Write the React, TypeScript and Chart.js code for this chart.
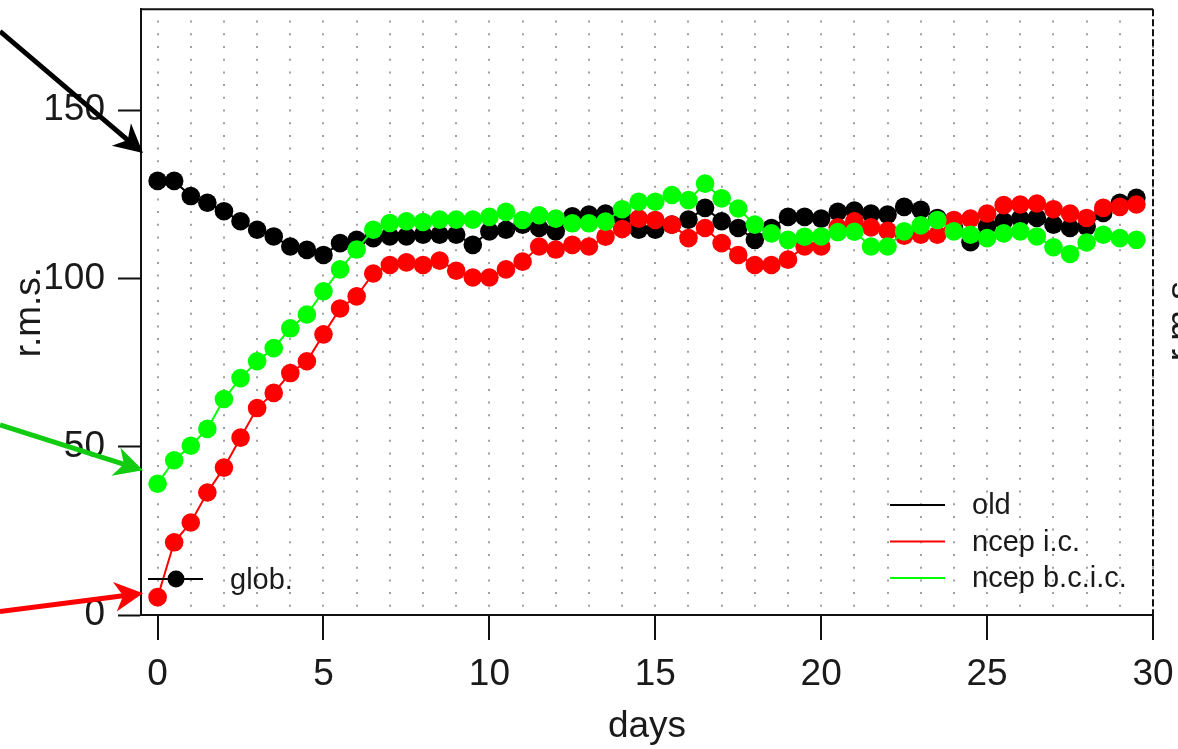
import React, { useEffect, useRef } from "react";
import { Chart, registerables } from "chart.js";

Chart.register(...registerables);

// ---- data ----
const days = [
  0, 0.5, 1, 1.5, 2, 2.5, 3, 3.5, 4, 4.5, 5, 5.5, 6, 6.5, 7, 7.5, 8, 8.5, 9, 9.5,
  10, 10.5, 11, 11.5, 12, 12.5, 13, 13.5, 14, 14.5, 15, 15.5, 16, 16.5, 17, 17.5, 18, 18.5, 19, 19.5,
  20, 20.5, 21, 21.5, 22, 22.5, 23, 23.5, 24, 24.5, 25, 25.5, 26, 26.5, 27, 27.5, 28, 28.5, 29, 29.5,
];

const oldVals = [
  129, 129, 124.5, 122.5, 120, 117, 114.5, 112.5, 109.5, 108.5, 107, 110.5, 111.5, 112, 112.5, 112.5, 113, 113, 113, 110,
  114, 114.5, 116, 115, 114, 118.5, 119, 119.3, 118, 114.5, 114.5, 116, 117.5, 121, 117, 115, 111.5, 115, 118.3, 118.3,
  117.8, 119.8, 120.2, 119.3, 119, 121.3, 120.4, 118, 115, 110.8, 115.5, 117, 117.8, 118, 116, 115, 115.4, 119.5, 122.5, 124,
];

const icVals = [
  5.3, 21.6, 27.5, 36.4, 43.8, 52.7, 61.5, 66, 71.9, 75.4, 83.4, 91.1, 94.7, 101.5, 104, 104.8, 104, 105.3, 102.3, 100.3,
  100.3, 102.7, 105, 109.5, 108.6, 110, 109.5, 112.4, 114.7, 117.8, 117.4, 116, 112, 115, 110.5, 107, 104, 104, 105.6, 109.5,
  109.5, 115.2, 117, 115.2, 114.2, 112.7, 113, 113, 117.4, 117.8, 119.3, 121.8, 122, 122.3, 120.6, 119.3, 118, 121, 121.3, 122,
];

const bcicVals = [
  39, 46, 50.3, 55.3, 64.2, 70.4, 75.4, 79.3, 85.2, 89.3, 96.2, 102.7, 108.6, 114.5, 116.5, 117, 116.8, 117.5, 117.5, 117.5,
  118.3, 119.8, 117.4, 118.8, 117.8, 116.4, 116.4, 116.9, 120.6, 122.8, 122.8, 124.8, 123.3, 128.2, 123.8, 120.8, 116, 113.4, 111.5, 112.4,
  112.5, 113.8, 113.9, 109.5, 109.5, 114, 115.8, 117.4, 114, 113, 112, 113.4, 114, 112.5, 109.3, 107.3, 110.7, 113, 112, 111.5,
];

const seriesLabels = ["old", "ncep i.c.", "ncep b.c.i.c."];
const xTickValues = [
  0, 1, 2, 3, 4, 5, 6, 7, 8, 9, 10, 11, 12, 13, 14, 15, 16, 17, 18, 19, 20,
  21, 22, 23, 24, 25, 26, 27, 28, 29, 30,
];
const yTickValues = [0, 50, 100, 150];
const xTitle = "days";
const yTitle = "r.m.s.";
const markerLabel = "glob.";

const FONT = "'Liberation Sans', Arial, Helvetica, sans-serif";
const TEXT = "#1a1a1a";

function drawArrow(
  ctx: CanvasRenderingContext2D,
  x0: number, y0: number, x1: number, y1: number, color: string
) {
  const ang = Math.atan2(y1 - y0, x1 - x0);
  const headLen = 32;
  const barb = 0.48;
  const notch = 20;
  const nx = x1 - notch * Math.cos(ang);
  const ny = y1 - notch * Math.sin(ang);
  ctx.save();
  ctx.strokeStyle = color;
  ctx.fillStyle = color;
  ctx.lineWidth = 5;
  ctx.beginPath();
  ctx.moveTo(x0, y0);
  ctx.lineTo(nx + 2 * Math.cos(ang), ny + 2 * Math.sin(ang));
  ctx.stroke();
  ctx.beginPath();
  ctx.moveTo(x1, y1);
  ctx.lineTo(x1 - headLen * Math.cos(ang - barb), y1 - headLen * Math.sin(ang - barb));
  ctx.lineTo(nx, ny);
  ctx.lineTo(x1 - headLen * Math.cos(ang + barb), y1 - headLen * Math.sin(ang + barb));
  ctx.closePath();
  ctx.fill();
  ctx.restore();
}

const decorPlugin = {
  id: "decor",
  afterDraw(chart: any) {
    const { ctx, chartArea: ca, scales } = chart;
    const ys = scales.y;
    ctx.save();
    // frame: top solid, right dashed
    ctx.strokeStyle = "#111";
    ctx.lineWidth = 2;
    ctx.beginPath();
    ctx.moveTo(ca.left, ca.top);
    ctx.lineTo(ca.right, ca.top);
    ctx.stroke();
    ctx.setLineDash([7, 3]);
    ctx.beginPath();
    ctx.moveTo(ca.right, ca.top);
    ctx.lineTo(ca.right, ca.bottom);
    ctx.stroke();
    ctx.setLineDash([]);

    // legend (bottom right)
    ctx.font = `29px ${FONT}`;
    ctx.textBaseline = "middle";
    ctx.textAlign = "left";
    chart.data.datasets.forEach((ds: any, i: number) => {
      const y = ca.bottom - 110 + i * 36.5;
      ctx.strokeStyle = ds.borderColor;
      ctx.lineWidth = 2;
      ctx.beginPath();
      ctx.moveTo(ca.right - 263, y);
      ctx.lineTo(ca.right - 208, y);
      ctx.stroke();
      ctx.fillStyle = TEXT;
      ctx.fillText(ds.label, ca.right - 181, y + 1);
    });

    // glob. marker (bottom left)
    const gy = ca.bottom - 36;
    ctx.strokeStyle = "#000";
    ctx.lineWidth = 2;
    ctx.beginPath();
    ctx.moveTo(ca.left + 7, gy);
    ctx.lineTo(ca.left + 62, gy);
    ctx.stroke();
    ctx.fillStyle = "#000";
    ctx.beginPath();
    ctx.arc(ca.left + 35, gy, 8.5, 0, Math.PI * 2);
    ctx.fill();
    ctx.fillStyle = TEXT;
    ctx.fillText(markerLabel, ca.left + 89, gy + 2);

    // arrows pointing to the starting values
    drawArrow(ctx, 0, ca.top + 22, ca.left + 2, ys.getPixelForValue(137.3), "#000000");
    drawArrow(ctx, 0, ys.getPixelForValue(56.5), ca.left + 2, ys.getPixelForValue(43), "#11cc11");
    drawArrow(ctx, 0, ys.getPixelForValue(1), ca.left + 2, ys.getPixelForValue(6.5), "#ff0000");

    // clipped mirrored axis title on the right edge
    ctx.save();
    ctx.translate(ca.right + 29, (ca.top + ca.bottom) / 2 + 4);
    ctx.rotate(-Math.PI / 2);
    ctx.font = `37px ${FONT}`;
    ctx.textAlign = "center";
    ctx.textBaseline = "middle";
    ctx.fillStyle = TEXT;
    ctx.fillText(yTitle, 0, 0);
    ctx.restore();

    ctx.restore();
  },
};

export default function App() {
  const ref = useRef<HTMLCanvasElement | null>(null);

  useEffect(() => {
    if (!ref.current) return;
    const mk = (vals: number[]) => days.map((d, i) => ({ x: d, y: vals[i] }));
    const point = {
      pointRadius: 9.3,
      pointHoverRadius: 9.3,
      pointBorderWidth: 0,
      borderWidth: 2,
      tension: 0,
    };
    const chart = new Chart(ref.current, {
      type: "line",
      data: {
        datasets: [
          { label: seriesLabels[0], data: mk(oldVals), borderColor: "#000000", backgroundColor: "#000000", pointBackgroundColor: "#000000", order: 3, ...point },
          { label: seriesLabels[1], data: mk(icVals), borderColor: "#ff0000", backgroundColor: "#ff0000", pointBackgroundColor: "#ff0000", order: 2, ...point },
          { label: seriesLabels[2], data: mk(bcicVals), borderColor: "#00ff00", backgroundColor: "#00ff00", pointBackgroundColor: "#00ff00", order: 1, ...point },
        ],
      },
      options: {
        animation: false,
        responsive: false,
        events: [],
        layout: { padding: { top: 8, right: 25, left: 0, bottom: 0 } },
        plugins: { legend: { display: false }, tooltip: { enabled: false } },
        scales: {
          x: {
            type: "linear",
            min: -0.5,
            max: 30,
            afterBuildTicks: (s: any) => {
              s.ticks = xTickValues.map((v) => ({ value: v }));
            },
            afterFit: (s: any) => {
              s.height = 134;
              s.paddingLeft = 0;
              s.paddingRight = 0;
            },
            ticks: {
              autoSkip: false,
              maxRotation: 0,
              minRotation: 0,
              padding: 13,
              color: TEXT,
              font: { family: FONT, size: 37 },
              callback: (v: any) => (Number(v) % 5 === 0 ? String(v) : ""),
            },
            grid: {
              display: true,
              drawOnChartArea: true,
              drawTicks: true,
              color: "#a0a0a0",
              lineWidth: 2,
              tickLength: 25,
              tickWidth: 2,
              tickBorderDash: [],
              tickColor: (c: any) =>
                c.tick && Number(c.tick.value) % 5 === 0 ? "#111111" : "rgba(0,0,0,0)",
            },
            border: { display: true, color: "#111", width: 2, dash: [2, 10.7], dashOffset: 1.4 },
            title: {
              display: true,
              text: xTitle,
              color: TEXT,
              font: { family: FONT, size: 37 },
              padding: { top: 0, bottom: 0 },
            },
          },
          y: {
            type: "linear",
            min: 0,
            max: 180,
            afterBuildTicks: (s: any) => {
              s.ticks = yTickValues.map((v) => ({ value: v }));
            },
            afterFit: (s: any) => {
              s.width = 141;
              s.paddingTop = 0;
              s.paddingBottom = 0;
            },
            ticks: {
              padding: 13,
              color: TEXT,
              font: { family: FONT, size: 37 },
            },
            grid: {
              display: true,
              drawOnChartArea: false,
              drawTicks: true,
              tickLength: 23,
              tickWidth: 2,
              tickColor: "#111",
            },
            border: { display: true, color: "#111", width: 2 },
            title: {
              display: true,
              text: yTitle,
              color: TEXT,
              font: { family: FONT, size: 37 },
              padding: { top: 8, bottom: 0 },
            },
          },
        },
      },
      plugins: [decorPlugin],
    } as any);
    return () => chart.destroy();
  }, []);

  return (
    <div style={{ position: "fixed", left: 0, top: 0, width: 1178, height: 749, background: "#fff" }}>
      <canvas ref={ref} width={1178} height={749} style={{ display: "block" }} />
    </div>
  );
}
